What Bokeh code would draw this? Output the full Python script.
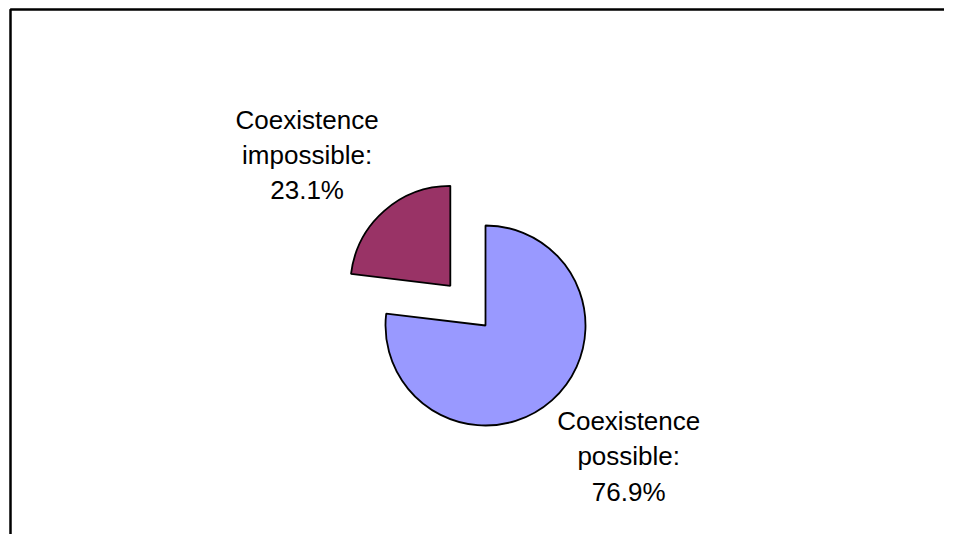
import math
from bokeh.plotting import figure
from bokeh.models import Range1d, ColumnDataSource
from bokeh.core.properties import value
from bokeh.embed import file_html
from bokeh.resources import INLINE

# ---- data ----
categories = ["Coexistence\npossible", "Coexistence\nimpossible"]
percents = [76.9, 23.1]
colors = ["#9999FF", "#993366"]
explode = [0, 1]

W, H = 944, 534
p = figure(width=W, height=H, output_backend="svg", toolbar_location=None,
           x_range=Range1d(0, W), y_range=Range1d(550 - H, 550),
           min_border=0, outline_line_color=None)
p.axis.visible = False
p.grid.visible = False
p.background_fill_color = "white"
p.border_fill_color = "white"

# chart frame (only its top and left edges fall inside the picture)
p.line(x=[10, 10, 3000], y=[-3000, 541, 541], line_color="black",
       line_width=2.5)

cx, cy, R = 485, 225, 100
expl_d = 53
lab_d, lab_rot = 194, 6

total = sum(percents)
cum = 0.0
xs, ys, starts, ends, lx, ly, texts = [], [], [], [], [], [], []
for cat, pc, ex in zip(categories, percents, explode):
    end = math.pi / 2 - 2 * math.pi * cum / total
    cum += pc
    start = math.pi / 2 - 2 * math.pi * cum / total
    mid = (start + end) / 2
    x0 = cx + ex * expl_d * math.cos(mid)
    y0 = cy + ex * expl_d * math.sin(mid)
    xs.append(x0); ys.append(y0); starts.append(start); ends.append(end)
    a = mid + math.radians(lab_rot)
    lx.append(x0 + lab_d * math.cos(a)); ly.append(y0 + lab_d * math.sin(a))
    texts.append(f"{cat}:\n{pc:.1f}%")

src = ColumnDataSource(dict(x=xs, y=ys, start=starts, end=ends, color=colors))
p.wedge(x="x", y="y", radius=R, radius_units="screen", start_angle="start",
        end_angle="end", direction="anticlock", fill_color="color",
        line_color="black", line_width=1.8, source=src)

p.text(x=lx, y=ly, text=texts, text_align="center", text_baseline="middle",
       text_font=value("Liberation Sans"), text_font_size="26px",
       text_line_height=1.18, text_color="black")

open("out.html", "w").write(file_html(p, INLINE))
